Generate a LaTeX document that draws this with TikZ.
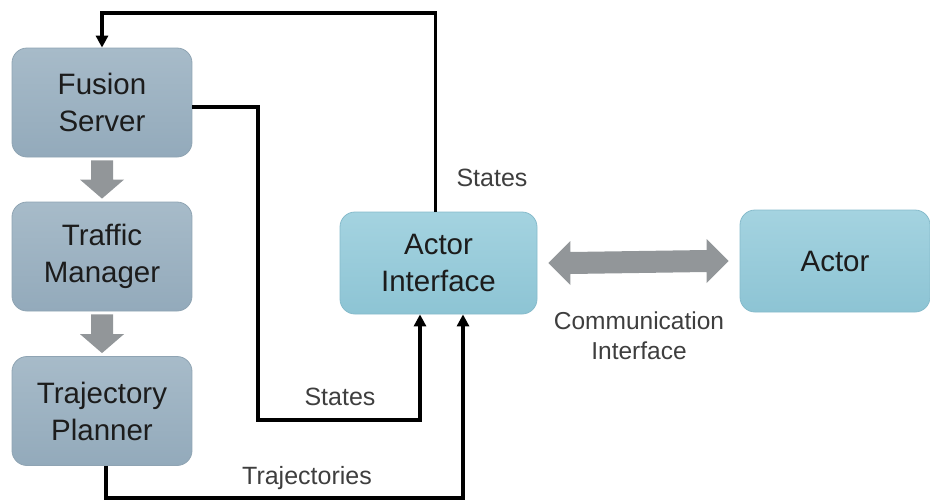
\documentclass[tikz,border=0pt]{standalone}
\usepackage{fontspec}
\setmainfont{Liberation Sans}
\usetikzlibrary{calc,arrows.meta}
\definecolor{lefttop}{HTML}{A7BBC9}
\definecolor{leftbot}{HTML}{93AABB}
\definecolor{leftedge}{HTML}{8FA4B3}
\definecolor{bluetop}{HTML}{A4D3E0}
\definecolor{bluebot}{HTML}{8DC4D4}
\definecolor{blueedge}{HTML}{86BBCB}
\definecolor{blockgray}{HTML}{929699}
\definecolor{txt}{HTML}{1C1C1C}
\tikzset{
  leftbox/.style={rounded corners=15pt, top color=lefttop, bottom color=leftbot, draw=leftedge, line width=0.8pt,
    minimum width=180pt, minimum height=109pt, align=center, text=txt,
    font=\fontsize{29.5}{37}\selectfont},
  bluebox/.style={rounded corners=15pt, top color=bluetop, bottom color=bluebot, draw=blueedge, line width=0.8pt,
    minimum width=195pt, minimum height=102pt, align=center, text=txt,
    font=\fontsize{29.5}{37}\selectfont},
  conn/.style={line width=3.6pt, black, -{Triangle[length=12pt,width=12pt]}},
  lbl/.style={text=txt!85, font=\fontsize{25}{30}\selectfont, inner sep=0pt},
  blockarrow/.style={fill=blockgray, draw=none}
}
\begin{document}
\begin{tikzpicture}[x=1pt,y=-1pt]
\useasboundingbox (0,0) rectangle (930,501);
\node[leftbox] (fs) at (102,102.5) {Fusion\\Server};
\node[leftbox] (tm) at (102,256.5) {Traffic\\Manager};
\node[leftbox] (tp) at (102,411) {Trajectory\\Planner};
\node[bluebox, minimum width=197pt] (ai) at (438.5,263) {Actor\\Interface};
\node[bluebox, minimum width=190pt] (ac) at (835,261) {Actor};

% block arrows between left boxes
\foreach \a/\b in {fs/tm, tm/tp}{
  \fill[blockarrow]
    ($(\a.south)+(-11,3)$) -- ($(\a.south)+(11,3)$) -- ($(\b.north)+(11,-22)$)
    -- ($(\b.north)+(22,-22)$) -- ($(\b.north)+(0,-3)$) -- ($(\b.north)+(-22,-22)$)
    -- ($(\b.north)+(-11,-22)$) -- cycle;
}
% double arrow
\coordinate (dl) at ($(ai.east)+(11,0)$);
\coordinate (dr) at ($(ac.west)+(-11,0)$);
\fill[blockarrow]
  (dl) -- ($(dl)+(22,-22)$) -- ($(dl)+(22,-11)$) -- ($(dr)+(-22,-11)$) -- ($(dr)+(-22,-22)$)
  -- (dr) -- ($(dr)+(-22,22)$) -- ($(dr)+(-22,11)$) -- ($(dl)+(22,11)$) -- ($(dl)+(22,22)$) -- cycle;
\node[lbl, align=center, font=\fontsize{24.5}{30}\selectfont] (ci) at (639,336) {Communication\\Interface};

% connectors
\coordinate (topA) at ($(ai.north)+(-3,0)$);
\draw[conn] (topA) -- (topA |- 0,13) -- (102,13) -- (fs.north -| 102,0);
\coordinate (fsR) at (fs.east |- 0,107);
\draw[conn] (fsR) -- (258,107) -- (258,420) -- (420,420) -- (ai.south -| 420,0);
\coordinate (tpB) at (tp.south -| 106,0);
\draw[conn] (tpB) -- (106,498) -- (463,498) -- (ai.south -| 463,0);

% labels
\node[lbl] (s1) at (492,178) {States};
\node[lbl] (s2) at (340,397) {States};
\node[lbl] (tr) at (307,478) {Trajectories};
\end{tikzpicture}
\end{document}
